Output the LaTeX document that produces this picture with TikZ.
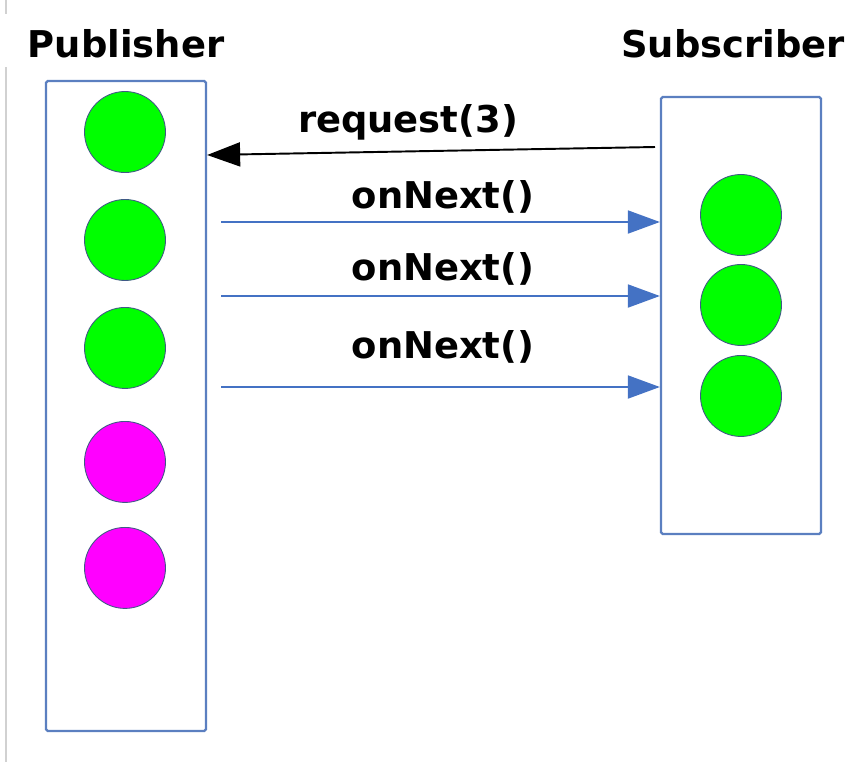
\documentclass[tikz,border=0pt]{standalone}
\usepackage{fontspec}
\setmainfont{DejaVu Sans}
\usetikzlibrary{arrows.meta, positioning}

\definecolor{laneblue}{HTML}{5B7FC0}
\definecolor{flowblue}{HTML}{4472C4}
\definecolor{ballgreen}{HTML}{00FF00}
\definecolor{ballpink}{HTML}{FF00FF}

\begin{document}
\begin{tikzpicture}[x=0.02cm, y=-0.02cm, on grid,
  lane/.style={draw=laneblue, line width=1.3pt, rounded corners=1pt, minimum width=3.2cm, inner sep=0pt},
  item/.style={circle, draw=laneblue!70!black, line width=0.5pt, minimum size=1.62cm, inner sep=0pt},
  title/.style={font=\fontsize{21}{25}\selectfont\bfseries, anchor=base},
  call/.style={draw=flowblue, line width=1.1pt, -{Triangle[length=0.64cm, width=0.46cm]}},
  ask/.style={draw=black, line width=1.1pt, -{Triangle[length=0.66cm, width=0.48cm]}}]
  \useasboundingbox (0,0) rectangle (852,762);
  \draw[black!18, line width=1pt] (6,67) -- (6,762) (6,0) -- (6,14);

  % the two lanes
  \node[lane, minimum height=13cm] (pub) at (126,406) {};
  \node[lane, minimum height=8.74cm] (sub) at (741,315.5) {};
  \node[title] (pubname) at (126,57) {Publisher};
  \node[title] (subname) at (733,57) {Subscriber};

  % publisher items
  \node[item, fill=ballgreen] (p1) at (125,132) {};
  \node[item, fill=ballgreen] (p2) [below=2.16cm of p1] {};
  \node[item, fill=ballgreen] (p3) [below=2.16cm of p2] {};
  \node[item, fill=ballpink] (p4) [below=2.28cm of p3] {};
  \node[item, fill=ballpink] (p5) [below=2.12cm of p4] {};

  % subscriber items
  \node[item, fill=ballgreen] (s1) at (741,215) {};
  \node[item, fill=ballgreen] (s2) [below=1.8cm of s1] {};
  \node[item, fill=ballgreen] (s3) [below=1.82cm of s2] {};

  % request goes back, items go forward
  \coordinate (req) at (655,147);
  \coordinate (n1) at (221,222);
  \coordinate (n2) at (221,296);
  \coordinate (n3) at (221,387);
  \draw[ask] (req) -- (pub.east |- 0,155);
  \draw[call] (n1) -- (sub.west |- n1);
  \draw[call] (n2) -- (sub.west |- n2);
  \draw[call] (n3) -- (sub.west |- n3);

  \node[title] (reqlabel) at (408,132) {request(3)};
  \node[title] (next1) at (443,208) {onNext()};
  \node[title] (next2) at (443,280) {onNext()};
  \node[title] (next3) at (443,358) {onNext()};
\end{tikzpicture}
\end{document}
